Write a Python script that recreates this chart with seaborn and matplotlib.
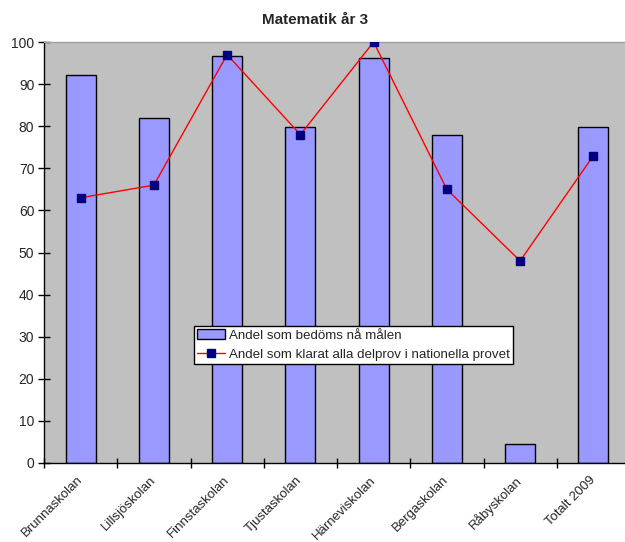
import matplotlib
matplotlib.use("Agg")
import matplotlib.pyplot as plt
import seaborn as sns
import pandas as pd
import numpy as np
from matplotlib.patches import Patch
from matplotlib.lines import Line2D

schools = ["Brunnaskolan", "Lillsjöskolan", "Finnstaskolan", "Tjustaskolan",
           "Härneviskolan", "Bergaskolan", "Råbyskolan", "Totalt 2009"]
bedoms = [92.2, 82.0, 96.7, 79.8, 96.1, 77.8, 4.5, 79.7]
klarat = [63, 66, 97, 78, 100, 65, 48, 73]
yticks = [0, 10, 20, 30, 40, 50, 60, 70, 80, 90, 100]

sns.set_theme(style="white")
plt.rcParams['font.family'] = ['Liberation Sans', 'DejaVu Sans']

df = pd.DataFrame({"skola": schools, "bedoms": bedoms, "klarat": klarat})

fig = plt.figure(figsize=(6.25, 5.42), dpi=100)
ax = fig.add_axes([44/625, 1-463/542, (630-44)/625, (463-42)/542])
ax.set_facecolor("#C0C0C0")

sns.barplot(data=df, x="skola", y="bedoms", color="#9999FF", saturation=1,
            width=0.41, edgecolor="black", linewidth=1.0, ax=ax)
pos = np.arange(len(schools))
ax.plot(pos, klarat, color="#FF0000", linewidth=1.0, marker="s",
        markersize=5.5, markerfacecolor="#000080", markeredgecolor="#000080", zorder=5)

ax.set_xlim(-0.5, len(schools) - 0.5)
ax.set_ylim(0, 100)
ax.set_xlabel("")
ax.set_ylabel("")

ax.set_yticks(yticks)
ax.set_yticklabels([str(v) for v in yticks], fontsize=10)
ax.tick_params(axis="y", which="major", direction="inout", length=8, width=1,
               color="black", pad=3, left=True)

ax.set_xticks(np.arange(len(schools) + 1) - 0.5)
ax.set_xticklabels([])
ax.tick_params(axis="x", which="major", direction="inout", length=7, width=1,
               color="black", bottom=True)
ax.set_xticks(pos, minor=True)
ax.set_xticklabels(schools, minor=True, rotation=45, ha="right", va="center",
                   rotation_mode="anchor", fontsize=9.5)
ax.tick_params(axis="x", which="minor", length=0, pad=11)

for s in ["left", "bottom"]:
    ax.spines[s].set_color("black")
    ax.spines[s].set_linewidth(1.0)
ax.spines["top"].set_color("#A0A0A0")
ax.spines["top"].set_linewidth(1.0)
ax.spines["right"].set_visible(False)

handles = [Patch(facecolor="#9999FF", edgecolor="black", linewidth=1.0),
           Line2D([0], [0], color="#FF0000", linewidth=1.0, marker="s",
                  markersize=5.5, markerfacecolor="#000080", markeredgecolor="#000080")]
labels = ["Andel som bedöms nå målen",
          "Andel som klarat alla delprov i nationella provet"]
leg = ax.legend(handles, labels, loc="lower left",
                bbox_to_anchor=((194-44)/586, (463-364)/421), fontsize=9.6,
                frameon=True, fancybox=False, framealpha=1, edgecolor="black",
                borderpad=0.25, labelspacing=0.5, handlelength=2.1,
                handleheight=0.7, handletextpad=0.25, borderaxespad=0)
leg.get_frame().set_linewidth(1.0)

fig.text(315/625, 1-20/542, "Matematik år 3", ha="center", va="center",
         fontsize=11, fontweight="bold")

fig.savefig("out.png", dpi=100)
